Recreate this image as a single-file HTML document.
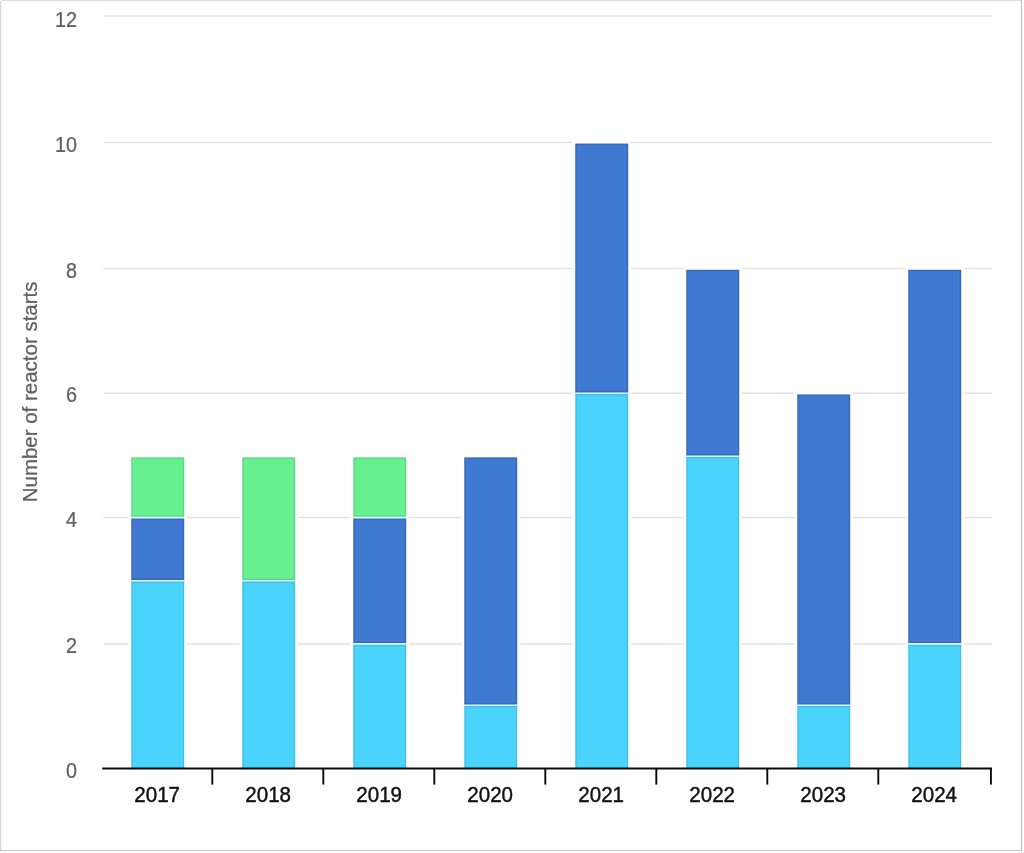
<!DOCTYPE html>
<html lang="en">
<head>
<meta charset="utf-8">
<title>Number of reactor starts</title>
<style>
html,body{margin:0;padding:0;background:#fff;}
body{width:1024px;height:853px;overflow:hidden;}
svg{display:block;}
</style>
</head>
<body>
<svg width="1024" height="853" viewBox="0 0 1024 853" font-family="'Liberation Sans', sans-serif">
<rect x="0" y="0" width="1024" height="853" fill="#ffffff"/>
<!-- frame -->
<rect x="1" y="0" width="1021" height="1" fill="#dcdcdc"/>
<rect x="0" y="1" width="1" height="850" fill="#d8d8d8"/>
<rect x="1" y="1" width="1" height="849" fill="#f6f6f6"/>
<rect x="1021" y="0" width="1" height="851" fill="#b8b8b8"/>
<rect x="0" y="850" width="1022" height="1" fill="#c6c6c6"/>
<!-- grid -->
<line x1="103.5" x2="992" y1="643.90" y2="643.90" stroke="#e2e2e2" stroke-width="1.5"/>
<line x1="103.5" x2="992" y1="517.60" y2="517.60" stroke="#e2e2e2" stroke-width="1.5"/>
<line x1="103.5" x2="992" y1="393.30" y2="393.30" stroke="#e2e2e2" stroke-width="1.5"/>
<line x1="103.5" x2="992" y1="268.60" y2="268.60" stroke="#e2e2e2" stroke-width="1.5"/>
<line x1="103.5" x2="992" y1="142.40" y2="142.40" stroke="#e2e2e2" stroke-width="1.5"/>
<line x1="103.5" x2="992" y1="16.10" y2="16.10" stroke="#e2e2e2" stroke-width="1.5"/>
<!-- columns -->
<rect x="128.50" y="454.60" width="58.50" height="313.90" fill="#ffffff"/>
<rect x="131.30" y="580.80" width="52.9" height="187.70" fill="#4ad4fb"/>
<rect x="132.00" y="582.30" width="51.50" height="186.20" fill="none" stroke="#1c2c44" stroke-opacity="0.12" stroke-width="1.4"/>
<rect x="131.30" y="517.60" width="52.9" height="63.20" fill="#4079d1"/>
<rect x="132.00" y="519.10" width="51.50" height="60.20" fill="none" stroke="#1c2c44" stroke-opacity="0.2" stroke-width="1.4"/>
<rect x="131.30" y="457.40" width="52.9" height="60.20" fill="#67f08f"/>
<rect x="132.00" y="458.10" width="51.50" height="58.00" fill="none" stroke="#1c2c44" stroke-opacity="0.12" stroke-width="1.4"/>
<line x1="131.30" x2="184.20" y1="580.80" y2="580.80" stroke="#dcf8ff" stroke-width="1.6"/>
<line x1="131.30" x2="184.20" y1="517.60" y2="517.60" stroke="#dcf8ff" stroke-width="1.6"/>
<rect x="239.50" y="454.60" width="58.50" height="313.90" fill="#ffffff"/>
<rect x="242.30" y="580.80" width="52.9" height="187.70" fill="#4ad4fb"/>
<rect x="243.00" y="582.30" width="51.50" height="186.20" fill="none" stroke="#1c2c44" stroke-opacity="0.12" stroke-width="1.4"/>
<rect x="242.30" y="457.40" width="52.9" height="123.40" fill="#67f08f"/>
<rect x="243.00" y="458.10" width="51.50" height="121.20" fill="none" stroke="#1c2c44" stroke-opacity="0.12" stroke-width="1.4"/>
<line x1="242.30" x2="295.20" y1="580.80" y2="580.80" stroke="#dcf8ff" stroke-width="1.6"/>
<rect x="350.50" y="454.60" width="58.50" height="313.90" fill="#ffffff"/>
<rect x="353.30" y="643.90" width="52.9" height="124.60" fill="#4ad4fb"/>
<rect x="354.00" y="645.40" width="51.50" height="123.10" fill="none" stroke="#1c2c44" stroke-opacity="0.12" stroke-width="1.4"/>
<rect x="353.30" y="517.60" width="52.9" height="126.30" fill="#4079d1"/>
<rect x="354.00" y="519.10" width="51.50" height="123.30" fill="none" stroke="#1c2c44" stroke-opacity="0.2" stroke-width="1.4"/>
<rect x="353.30" y="457.40" width="52.9" height="60.20" fill="#67f08f"/>
<rect x="354.00" y="458.10" width="51.50" height="58.00" fill="none" stroke="#1c2c44" stroke-opacity="0.12" stroke-width="1.4"/>
<line x1="353.30" x2="406.20" y1="643.90" y2="643.90" stroke="#dcf8ff" stroke-width="1.6"/>
<line x1="353.30" x2="406.20" y1="517.60" y2="517.60" stroke="#dcf8ff" stroke-width="1.6"/>
<rect x="461.50" y="454.60" width="58.50" height="313.90" fill="#ffffff"/>
<rect x="464.30" y="705.20" width="52.9" height="63.30" fill="#4ad4fb"/>
<rect x="465.00" y="706.70" width="51.50" height="61.80" fill="none" stroke="#1c2c44" stroke-opacity="0.12" stroke-width="1.4"/>
<rect x="464.30" y="457.40" width="52.9" height="247.80" fill="#4079d1"/>
<rect x="465.00" y="458.10" width="51.50" height="245.60" fill="none" stroke="#1c2c44" stroke-opacity="0.2" stroke-width="1.4"/>
<line x1="464.30" x2="517.20" y1="705.20" y2="705.20" stroke="#dcf8ff" stroke-width="1.6"/>
<rect x="572.50" y="140.80" width="58.50" height="627.70" fill="#ffffff"/>
<rect x="575.30" y="393.30" width="52.9" height="375.20" fill="#4ad4fb"/>
<rect x="576.00" y="394.80" width="51.50" height="373.70" fill="none" stroke="#1c2c44" stroke-opacity="0.12" stroke-width="1.4"/>
<rect x="575.30" y="143.60" width="52.9" height="249.70" fill="#4079d1"/>
<rect x="576.00" y="144.30" width="51.50" height="247.50" fill="none" stroke="#1c2c44" stroke-opacity="0.2" stroke-width="1.4"/>
<line x1="575.30" x2="628.20" y1="393.30" y2="393.30" stroke="#dcf8ff" stroke-width="1.6"/>
<rect x="683.50" y="267.00" width="58.50" height="501.50" fill="#ffffff"/>
<rect x="686.30" y="456.20" width="52.9" height="312.30" fill="#4ad4fb"/>
<rect x="687.00" y="457.70" width="51.50" height="310.80" fill="none" stroke="#1c2c44" stroke-opacity="0.12" stroke-width="1.4"/>
<rect x="686.30" y="269.80" width="52.9" height="186.40" fill="#4079d1"/>
<rect x="687.00" y="270.50" width="51.50" height="184.20" fill="none" stroke="#1c2c44" stroke-opacity="0.2" stroke-width="1.4"/>
<line x1="686.30" x2="739.20" y1="456.20" y2="456.20" stroke="#dcf8ff" stroke-width="1.6"/>
<rect x="794.50" y="391.70" width="58.50" height="376.80" fill="#ffffff"/>
<rect x="797.30" y="705.20" width="52.9" height="63.30" fill="#4ad4fb"/>
<rect x="798.00" y="706.70" width="51.50" height="61.80" fill="none" stroke="#1c2c44" stroke-opacity="0.12" stroke-width="1.4"/>
<rect x="797.30" y="394.50" width="52.9" height="310.70" fill="#4079d1"/>
<rect x="798.00" y="395.20" width="51.50" height="308.50" fill="none" stroke="#1c2c44" stroke-opacity="0.2" stroke-width="1.4"/>
<line x1="797.30" x2="850.20" y1="705.20" y2="705.20" stroke="#dcf8ff" stroke-width="1.6"/>
<rect x="905.50" y="267.00" width="58.50" height="501.50" fill="#ffffff"/>
<rect x="908.30" y="643.90" width="52.9" height="124.60" fill="#4ad4fb"/>
<rect x="909.00" y="645.40" width="51.50" height="123.10" fill="none" stroke="#1c2c44" stroke-opacity="0.12" stroke-width="1.4"/>
<rect x="908.30" y="269.80" width="52.9" height="374.10" fill="#4079d1"/>
<rect x="909.00" y="270.50" width="51.50" height="371.90" fill="none" stroke="#1c2c44" stroke-opacity="0.2" stroke-width="1.4"/>
<line x1="908.30" x2="961.20" y1="643.90" y2="643.90" stroke="#dcf8ff" stroke-width="1.6"/>
<!-- x axis -->
<line x1="102.2" x2="991.9" y1="768.5" y2="768.5" stroke="#0a0a0a" stroke-width="1.9"/>
<line x1="212.30" x2="212.30" y1="768" y2="784.6" stroke="#0a0a0a" stroke-width="1.9"/>
<line x1="323.30" x2="323.30" y1="768" y2="784.6" stroke="#0a0a0a" stroke-width="1.9"/>
<line x1="434.30" x2="434.30" y1="768" y2="784.6" stroke="#0a0a0a" stroke-width="1.9"/>
<line x1="545.30" x2="545.30" y1="768" y2="784.6" stroke="#0a0a0a" stroke-width="1.9"/>
<line x1="656.30" x2="656.30" y1="768" y2="784.6" stroke="#0a0a0a" stroke-width="1.9"/>
<line x1="767.30" x2="767.30" y1="768" y2="784.6" stroke="#0a0a0a" stroke-width="1.9"/>
<line x1="878.30" x2="878.30" y1="768" y2="784.6" stroke="#0a0a0a" stroke-width="1.9"/>
<line x1="990.90" x2="990.90" y1="768" y2="784.6" stroke="#0a0a0a" stroke-width="1.9"/>
<text transform="translate(157.15 802.1) scale(0.934 1)" text-anchor="middle" font-size="22" fill="#111111" stroke="#111111" stroke-width="0.45">2017</text>
<text transform="translate(268.15 802.1) scale(0.934 1)" text-anchor="middle" font-size="22" fill="#111111" stroke="#111111" stroke-width="0.45">2018</text>
<text transform="translate(379.15 802.1) scale(0.934 1)" text-anchor="middle" font-size="22" fill="#111111" stroke="#111111" stroke-width="0.45">2019</text>
<text transform="translate(490.15 802.1) scale(0.934 1)" text-anchor="middle" font-size="22" fill="#111111" stroke="#111111" stroke-width="0.45">2020</text>
<text transform="translate(601.15 802.1) scale(0.934 1)" text-anchor="middle" font-size="22" fill="#111111" stroke="#111111" stroke-width="0.45">2021</text>
<text transform="translate(712.15 802.1) scale(0.934 1)" text-anchor="middle" font-size="22" fill="#111111" stroke="#111111" stroke-width="0.45">2022</text>
<text transform="translate(823.15 802.1) scale(0.934 1)" text-anchor="middle" font-size="22" fill="#111111" stroke="#111111" stroke-width="0.45">2023</text>
<text transform="translate(934.15 802.1) scale(0.934 1)" text-anchor="middle" font-size="22" fill="#111111" stroke="#111111" stroke-width="0.45">2024</text>
<!-- y axis -->
<text transform="translate(76.9 777.70) scale(0.934 1)" text-anchor="end" font-size="21.2" fill="#606060" stroke="#606060" stroke-width="0.25">0</text>
<text transform="translate(76.9 653.00) scale(0.934 1)" text-anchor="end" font-size="21.2" fill="#606060" stroke="#606060" stroke-width="0.25">2</text>
<text transform="translate(76.9 527.00) scale(0.934 1)" text-anchor="end" font-size="21.2" fill="#606060" stroke="#606060" stroke-width="0.25">4</text>
<text transform="translate(76.9 402.10) scale(0.934 1)" text-anchor="end" font-size="21.2" fill="#606060" stroke="#606060" stroke-width="0.25">6</text>
<text transform="translate(76.9 277.60) scale(0.934 1)" text-anchor="end" font-size="21.2" fill="#606060" stroke="#606060" stroke-width="0.25">8</text>
<text transform="translate(76.9 151.90) scale(0.934 1)" text-anchor="end" font-size="21.2" fill="#606060" stroke="#606060" stroke-width="0.25">10</text>
<text transform="translate(76.9 27.20) scale(0.934 1)" text-anchor="end" font-size="21.2" fill="#606060" stroke="#606060" stroke-width="0.25">12</text>
<text transform="translate(37.4 391.9) rotate(-90) scale(0.976 1)" text-anchor="middle" font-size="21" fill="#606060" stroke="#606060" stroke-width="0.25">Number of reactor starts</text>
</svg>
</body>
</html>
